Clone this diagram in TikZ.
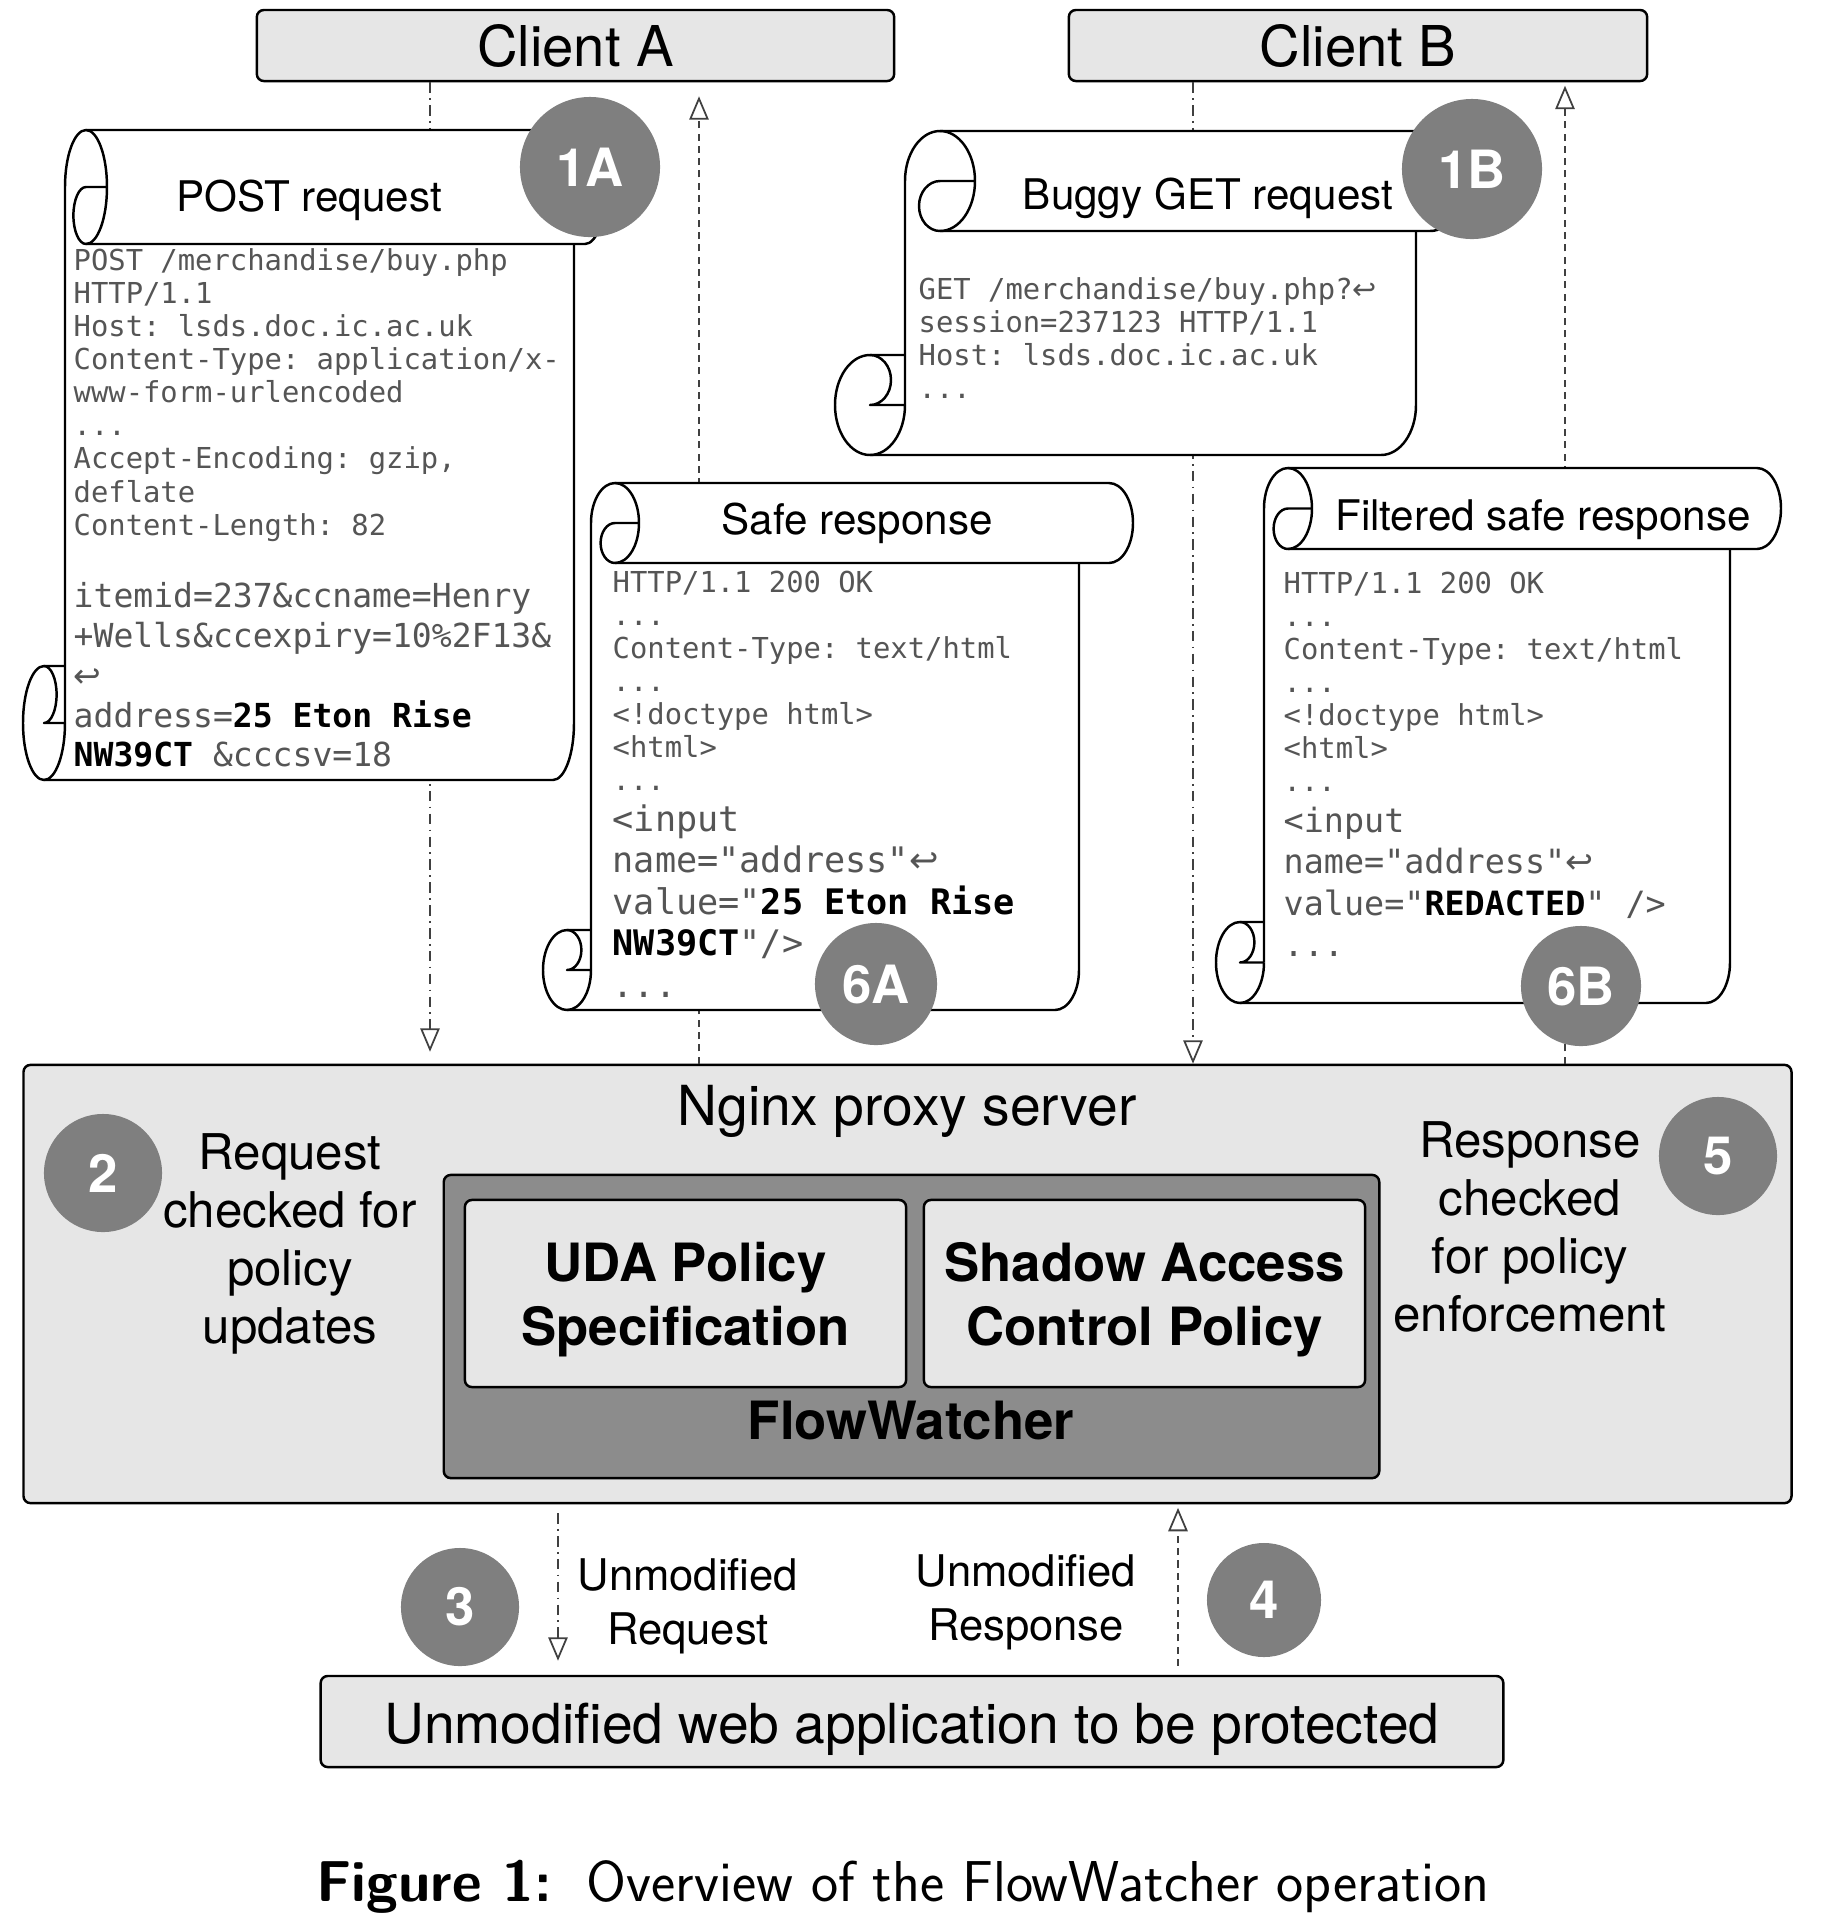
\documentclass[tikz,border=0pt]{standalone}
\usepackage{fontspec}
\setmainfont{TeX Gyre Heros}
\setmonofont{DejaVu Sans Mono}
\newfontfamily\arrowfont{DejaVu Sans}
\usepackage{tikz}
\usetikzlibrary{arrows}
\usetikzlibrary{calc}

\definecolor{boxgray}{HTML}{E6E6E6}
\definecolor{fwgray}{HTML}{8C8C8C}
\definecolor{badgegray}{HTML}{7F7F7F}
\definecolor{codegray}{HTML}{555555}
\definecolor{linegray}{HTML}{404040}

\newcommand\fs[2]{\fontsize{#1}{#2}\selectfont}
\newcommand\ret{{\arrowfont ↩}}

% scroll: left, right, band end, top, bottom, band height, roll radius
\newcommand\scrollshape[7]{%
  \pgfmathsetmacro\scL{#1}\pgfmathsetmacro\scR{#2}\pgfmathsetmacro\scE{#3}
  \pgfmathsetmacro\scT{-(#4)}\pgfmathsetmacro\scB{-(#5)}
  \pgfmathsetmacro\scH{#6}\pgfmathsetmacro\scY{#6/2}\pgfmathsetmacro\scX{#7}
  \fill[white] ({\scL},{\scB+\scH}) -- ({\scL},{\scT-\scY})
    arc[start angle=180,end angle=90,x radius=\scX,y radius=\scY] -- ({\scE},{\scT})
    arc[start angle=90,end angle=-90,x radius=\scX,y radius=\scY] -- ({\scR},{\scT-\scH})
    -- ({\scR},{\scB+\scY}) arc[start angle=0,end angle=-90,x radius=\scX,y radius=\scY]
    -- ({\scL-\scX},{\scB}) arc[start angle=270,end angle=90,x radius=\scX,y radius=\scY] -- cycle;
  \draw[scrollline] ({\scL},{\scB+\scY}) -- ({\scL},{\scT-\scY})
    arc[start angle=180,end angle=90,x radius=\scX,y radius=\scY] -- ({\scE},{\scT})
    arc[start angle=90,end angle=-90,x radius=\scX,y radius=\scY] -- ({\scL+\scX},{\scT-\scH});
  \draw[scrollline] ({\scR},{\scT-\scH}) -- ({\scR},{\scB+\scY})
    arc[start angle=0,end angle=-90,x radius=\scX,y radius=\scY] -- ({\scL-\scX},{\scB})
    arc[start angle=270,end angle=90,x radius=\scX,y radius=\scY] -- ({\scL},{\scB+\scH});
  \draw[scrollline] ({\scL+\scX},{\scT}) arc[start angle=90,end angle=-90,x radius=\scX,y radius=\scY];
  \draw[scrollline] ({\scL+2*\scX},{\scT-\scY}) -- ({\scL+\scX},{\scT-\scY})
    arc[start angle=90,end angle=270,x radius=0.6*\scX,y radius=\scY/2];
  \draw[scrollline] ({\scL},{\scB+\scY}) arc[start angle=0,end angle=-90,x radius=\scX,y radius=\scY];
  \draw[scrollline] ({\scL-\scX},{\scB+\scH})
    arc[start angle=90,end angle=-90,x radius=0.6*\scX,y radius=\scY/2] -- ({\scL},{\scB+\scY});
}

\begin{document}
\begin{tikzpicture}[x=0.01cm,y=0.01cm,
    box/.style={draw,rounded corners=2pt,fill=boxgray,line width=0.7pt,inner sep=0pt},
    scrollline/.style={line width=0.7pt,line join=round},
    badge/.style={circle,fill=badgegray,text=white,inner sep=0pt,minimum size=1.4cm,font=\fs{15}{18}\bfseries},
    req/.style={draw=linegray,line width=0.5pt,dash pattern=on 3pt off 1.5pt on 0.5pt off 1.5pt,-open triangle 45},
    resp/.style={draw=linegray,line width=0.5pt,dash pattern=on 2pt off 1.5pt,-open triangle 45},
    code/.style={align=left,anchor=north west,text=codegray,inner sep=0pt},
    title/.style={font=\fs{12}{14}}]
    \useasboundingbox (0,0) rectangle (1823,-1920);

    % boxes
    \node[box,minimum width=6.37cm,minimum height=0.71cm,font=\fs{16}{19}] (clientA) at (575.5,-45.5) {Client A};
    \node[box,minimum width=5.78cm,minimum height=0.71cm,font=\fs{16}{19}] (clientB) at (1358,-45.5) {Client B};
    \node[box,minimum width=17.67cm,minimum height=4.38cm] (nginx) at (907.5,-1284) {};
    \node[font=\fs{15.7}{18}] (nginxlbl) at (907,-1111) {Nginx proxy server};
    \node[box,fill=fwgray,minimum width=9.35cm,minimum height=3.03cm] (fw) at (911.5,-1326.5) {};
    \node[box,minimum width=4.41cm,minimum height=1.87cm] (uda) at (685.5,-1293.5) {};
    \node[box,minimum width=4.41cm,minimum height=1.87cm] (shadow) at (1144.5,-1293.5) {};
    \node[align=center,font=\fs{15}{18.2}\bfseries] (udatxt) at (685.5,-1299.5) {UDA Policy\\Specification};
    \node[align=center,font=\fs{15}{18.2}\bfseries] (shadowtxt) at (1144.5,-1299.5) {Shadow Access\\Control Policy};
    \node[font=\fs{15}{18}\bfseries] (fwlbl) at (911,-1420) {FlowWatcher};
    \node[box,minimum width=11.82cm,minimum height=0.91cm] (webapp) at (912,-1721.5) {};
    \node[font=\fs{15.7}{18}] (webapptxt) at (912,-1729) {Unmodified web application to be protected};

    \node[align=center,font=\fs{14}{16.5}] (step2txt) at (290,-1244) {Request\\checked for\\policy\\updates};
    \node[align=center,font=\fs{14}{16.5}] (step5txt) at (1530,-1227) {Response\\checked\\for policy\\enforcement};
    \node[align=center,font=\fs{12.4}{15.3}] (req3txt) at (688,-1606) {Unmodified\\Request};
    \node[align=center,font=\fs{12.4}{15.3}] (resp4txt) at (1026,-1602) {Unmodified\\Response};

    % lanes
    \coordinate (laneA) at (430,0);
    \coordinate (laneAr) at (699,0);
    \coordinate (laneB) at (1193,0);
    \coordinate (laneBr) at (1565,0);
    \coordinate (lane3) at (558,0);
    \coordinate (lane4) at (1178,0);

    \draw[req,shorten >=3.4pt] (clientA.south -| laneA) -- (nginx.north -| laneA);
    \draw[resp,shorten >=4pt] (nginx.north -| laneAr) -- (clientA.south -| laneAr);
    \draw[req,shorten >=0pt] (clientB.south -| laneB) -- (nginx.north -| laneB);
    \draw[resp,shorten >=1pt] (nginx.north -| laneBr) -- (clientB.south -| laneBr);
    \draw[req,shorten <=2.5pt,shorten >=4pt] (nginx.south -| lane3) -- (webapp.north -| lane3);
    \draw[resp,shorten <=2.5pt,shorten >=1pt] (webapp.north -| lane4) -- (nginx.south -| lane4);

    % POST request
    \scrollshape{65}{574}{585}{130}{780}{114}{21}
    \node[title] (postttl) at (309,-200) {POST request};
    \node[code,font=\ttfamily\fs{8.2}{9.4}] (postcode) at (73,-248) {POST /merchandise/buy.php\\HTTP/1.1\\Host: lsds.doc.ic.ac.uk\\Content-Type: application/x-\\www-form-urlencoded\\...\\Accept-Encoding: gzip,\\deflate\\Content-Length: 82};
    \node[code,font=\ttfamily\fs{9.4}{11.3}] (postbody) at (73,-582) {itemid=237\&ccname=Henry\\+Wells\&ccexpiry=10\%2F13\&\\\ret\\address=\textcolor{black}{\textbf{25 Eton Rise}}\\\textcolor{black}{\textbf{NW39CT}} \&cccsv=18};

    % buggy GET request
    \scrollshape{905}{1416}{1430}{131}{455}{100}{35}
    \node[title] (getttl) at (1208,-198) {Buggy GET request};
    \node[code,font=\ttfamily\fs{8.2}{9.4}] (getcode) at (918,-277) {GET /merchandise/buy.php?\ret\\session=237123 HTTP/1.1\\Host: lsds.doc.ic.ac.uk\\...};

    % safe response
    \scrollshape{591}{1079}{1109}{483}{1010}{80}{24}
    \node[title] (safettl) at (857,-523) {Safe response};
    \node[code,font=\ttfamily\fs{8.2}{9.4}] (safehdr) at (612,-570) {HTTP/1.1 200 OK\\...\\Content-Type: text/html\\...\\<!doctype html>\\<html>\\...};
    \node[code,font=\ttfamily\fs{10}{11.8}] (safebody) at (612,-804) {<input\\name="address"\ret\\value="\textcolor{black}{\textbf{25 Eton Rise}}\\\textcolor{black}{\textbf{NW39CT}}"/>\\...};

    % filtered safe response
    \scrollshape{1264}{1730}{1757}{468}{1003}{81}{24}
    \node[title] (filtttl) at (1543,-520) {Filtered safe response};
    \node[code,font=\ttfamily\fs{8.2}{9.4}] (filthdr) at (1283,-571) {HTTP/1.1 200 OK\\...\\Content-Type: text/html\\...\\<!doctype html>\\<html>\\...};
    \node[code,font=\ttfamily\fs{9.5}{11.8}] (filtbody) at (1283,-806) {<input\\name="address"\ret\\value="\textcolor{black}{\textbf{REDACTED}}" />\\...};

    % steps
    \node[badge] (s1A) at (590,-167) {1A};
    \node[badge] (s1B) at (1472,-169) {1B};
    \node[badge,minimum size=1.22cm] (s6A) at (876,-984) {6A};
    \node[badge,minimum size=1.2cm] (s6B) at (1581,-986) {6B};
    \node[badge,minimum size=1.18cm] (s2) at (103,-1173) {2};
    \node[badge,minimum size=1.18cm] (s5) at (1718,-1156) {5};
    \node[badge,minimum size=1.18cm] (s3) at (460,-1607) {3};
    \node[badge,minimum size=1.14cm] (s4) at (1264,-1600) {4};

    \node[font=\sffamily\fs{16.4}{19}] (caption) at (903,-1887) {\textbf{Figure 1:}\hskip0.6em Overview of the FlowWatcher operation};
\end{tikzpicture}
\end{document}
